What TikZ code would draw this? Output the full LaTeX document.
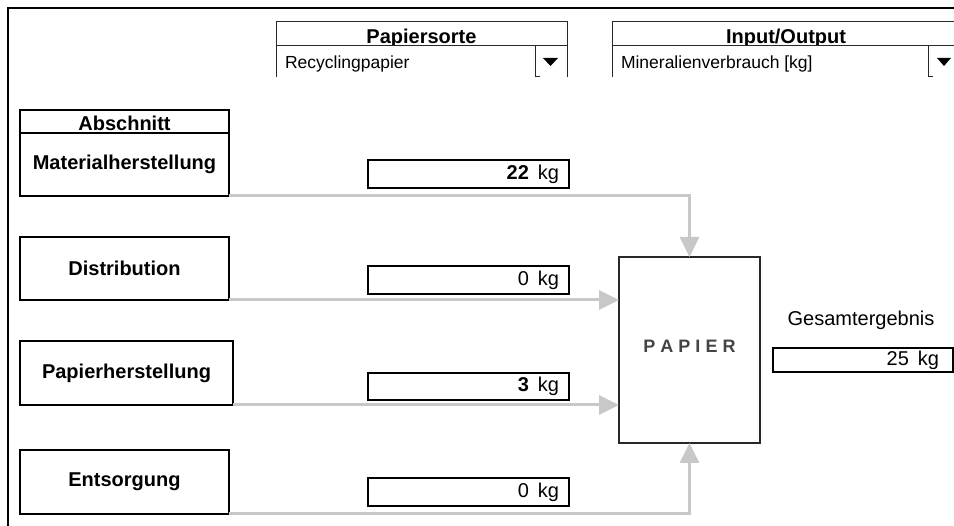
\documentclass[tikz,border=0pt]{standalone}
\usepackage{fontspec}
\setmainfont{Liberation Sans}
\usetikzlibrary{arrows.meta}
\definecolor{flowgray}{RGB}{200,200,200}
\definecolor{titlegray}{RGB}{68,68,68}
\definecolor{edgegray}{RGB}{40,40,40}

\begin{document}
\begin{tikzpicture}[x=1pt,y=-1pt,
  every node/.style={inner sep=0pt, outer sep=0pt},
  big/.style={font=\fontsize{20}{24}\selectfont},
  bigbold/.style={font=\fontsize{20}{24}\selectfont\bfseries},
  small/.style={font=\fontsize{17.5}{21}\selectfont},
  stagebox/.style={draw=black, line width=1.2pt, fill=white, anchor=north west,
    minimum width=209pt, minimum height=63pt, bigbold},
  hdrbox/.style={draw=edgegray, line width=1pt, anchor=north west, minimum height=24pt},
  valbox/.style={draw=black, line width=2.6pt, fill=white, anchor=north west,
    minimum height=28pt, text width=181pt, inner xsep=10pt, align=right, big},
  flow/.style={draw=flowgray, line width=3pt, -{Triangle[width=19pt,length=20pt]}},
  listline/.style={draw=edgegray, line width=1pt},
  pick/.style={fill=black}
]
\useasboundingbox (0,0) rectangle (954,526);
\clip (0,0) rectangle (954,526);

% outer frame (open to the right and bottom)
\draw[line width=2.5pt] (8,526) -- (8,8) -- (954,8);

% ---- selector: Papiersorte ----
\begin{scope}
  \clip (276,22) rectangle (567,46);
  \node[bigbold, anchor=base] (sorttitle) at (421.5,44) {Papiersorte};
\end{scope}
\node[hdrbox, minimum width=291pt] (sorthdr) at (276,22) {};
\node[small, anchor=base west] (sortval) at (285,69) {Recyclingpapier};
\draw[listline] (276,46) -- (276,77);
\draw[listline] (535,46) -- (535,77) -- (540,77);
\draw[listline] (567,46) -- (567,77);
\fill[pick] (543,58) -- (558,58) -- (550.5,66) -- cycle;

% ---- selector: Input/Output ----
\begin{scope}
  \clip (612,22) rectangle (960,46);
  \node[bigbold, anchor=base] (iotitle) at (786,44) {Input/Output};
\end{scope}
\node[hdrbox, minimum width=348pt] (iohdr) at (612,22) {};
\node[small, anchor=base west] (ioval) at (621,69) {Mineralienverbrauch [kg]};
\draw[listline] (612,46) -- (612,77);
\draw[listline] (928,46) -- (928,77) -- (933,77);
\fill[pick] (937,58) -- (951,58) -- (944,66) -- cycle;

% ---- life-cycle stages ----
\node[draw=black, line width=1.2pt, fill=white, anchor=north west,
  minimum width=209pt, minimum height=23pt] (abshdr) at (20,110) {};
\node[bigbold, anchor=base] (abstitle) at (124.5,131) {Abschnitt};
\node[stagebox] (mat) at (20,133) {Materialherstellung};
\node[stagebox] (dist) at (20,237) {Distribution};
\node[stagebox, minimum width=213pt, minimum height=64pt] (pap) at (20,341) {Papierherstellung};
\node[stagebox, minimum height=64pt] (ents) at (20,450) {Entsorgung};

% ---- values per stage ----
\node[valbox] (vmat) at (368,160) {\textbf{22}\hspace{0.45em}kg};
\node[valbox] (vdist) at (368,266) {0\hspace{0.45em}kg};
\node[valbox, minimum height=27pt] (vpap) at (368,373) {\textbf{3}\hspace{0.45em}kg};
\node[valbox] (vents) at (368,478) {0\hspace{0.45em}kg};

% ---- product ----
\node[draw=edgegray, line width=1.3pt, fill=white, anchor=north west,
  minimum width=141pt, minimum height=186pt] (papier) at (619,257) {};
\node[font=\fontsize{18}{22}\selectfont\bfseries, text=titlegray, anchor=base]
  (papiertitle) at (689.5,353) {P A P I E R};

% ---- total ----
\node[big, anchor=base] (totlabel) at (861,326) {Gesamtergebnis};
\node[valbox, minimum height=24pt, text width=152pt, inner xsep=14pt] (vtot) at (773,348) {25\hspace{0.45em}kg};

% ---- flows into the product ----
\draw[flow] (mat.south east) -| (papier.north);
\draw[flow] (dist.south east) -- (dist.south east -| papier.west);
\draw[flow] (pap.south east) -- (pap.south east -| papier.west);
\draw[flow] (ents.south east) -| (papier.south);
\end{tikzpicture}
\end{document}
